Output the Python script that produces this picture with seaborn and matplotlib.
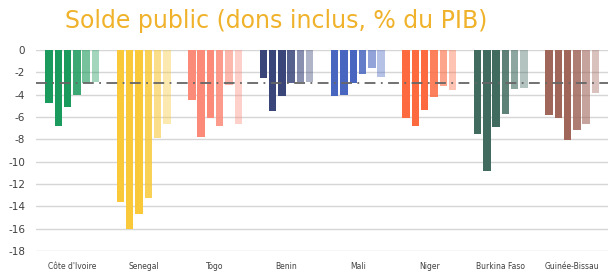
import numpy as np
import pandas as pd
import matplotlib
matplotlib.use('Agg')
import matplotlib.pyplot as plt
import seaborn as sns

sns.set_style('white')
plt.rcParams['font.family'] = ['DejaVu Sans']
plt.rcParams['axes.unicode_minus'] = False

# pays et soldes (6 barres par pays)
pays = ['Côte d\'Ivoire', 'Senegal', 'Togo', 'Benin', 'Mali', 'Niger',
        'Burkina Faso', 'Guinée-Bissau']
civ = [-4.8, -6.8, -5.1, -4.0, -3.0, -2.9]
sen = [-13.6, -16.0, -14.7, -13.3, -7.9, -6.6]
tgo = [-4.5, -7.8, -6.1, -6.8, -3.1, -6.6]
ben = [-2.5, -5.5, -4.1, -3.0, -2.9, -2.9]
mli = [-4.1, -4.0, -3.0, -2.2, -1.6, -2.4]
ner = [-6.1, -6.8, -5.4, -4.2, -3.2, -3.6]
bfa = [-7.5, -10.8, -6.9, -5.7, -3.5, -3.4]
gnb = [-5.8, -6.1, -8.1, -7.2, -6.6, -3.9]
seuil = -3
barres = ['1', '2', '3', '4', '5', '6']

couleurs = ['#1a9a5c', '#f9c93a', '#fc8a78', '#3a4579', '#4866c0', '#fd6a3f',
            '#426b60', '#a0665a']
alphas = [1.0, 1.0, 1.0, 0.85, 0.6, 0.4]

series = [civ, sen, tgo, ben, mli, ner, bfa, gnb]
rows = []
for p, vals in zip(pays, series):
    for b, v in zip(barres, vals):
        rows.append({'pays': p, 'barre': b, 'solde': v})
df = pd.DataFrame(rows)

fig = plt.figure(figsize=(6.08, 2.74), dpi=100)
ax = fig.add_axes([0.06, 0.084, 0.94, 0.734])

sns.barplot(data=df, x='pays', y='solde', hue='barre', order=pays,
            hue_order=barres, width=0.78, gap=0.2, legend=False, ax=ax,
            zorder=3)

# une couleur par pays, de plus en plus claire d'une barre a l'autre
for j, cont in enumerate(ax.containers):
    for i, patch in enumerate(cont.patches):
        patch.set_facecolor(couleurs[i])
        patch.set_alpha(alphas[j])
        patch.set_edgecolor('none')

ax.axhline(seuil, color='#666666', lw=1.3, ls=(0, (6, 3, 1, 3)), zorder=4)

ax.set_ylim(-18, 0)
ax.set_yticks(np.arange(-18, 1, 2))
ax.yaxis.grid(True, color='#d6d6d6', lw=1)
ax.set_axisbelow(True)
ax.tick_params(axis='y', labelsize=7.5, colors='#404040', length=0, pad=8)
ax.tick_params(axis='x', labelsize=5.5, colors='#404040', length=0, pad=8)
ax.set_xlabel('')
ax.set_ylabel('')
ax.set_xlim(-0.5, len(pays) - 0.5)
for s in ax.spines.values():
    s.set_visible(False)

fig.text(0.455, 0.922, 'Solde public (dons inclus, % du PIB)', ha='center',
         va='center', fontsize=17, color='#efb22a')

fig.savefig('out.png', dpi=100, facecolor='white')
